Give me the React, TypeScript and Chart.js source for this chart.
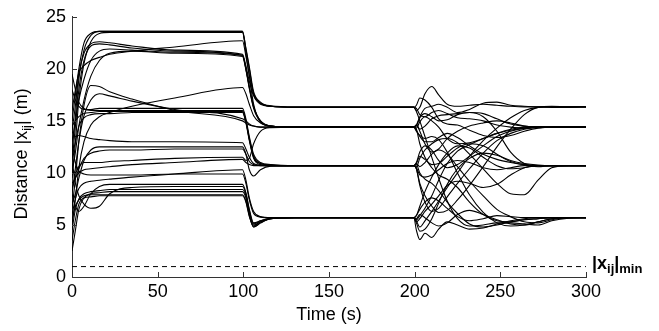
import { useEffect, useRef } from "react";
import { Chart, registerables } from "chart.js";

Chart.register(...registerables);

// Sample times (s)
const times = [0, 2, 4, 7, 11, 16, 22, 35, 60, 99.5, 101.5, 103.5, 106, 110, 116, 130, 199.5, 201, 203, 206, 210, 214, 219, 225, 232, 240, 248, 256, 264, 272, 280, 290, 300];

// Pairwise distances |x_ij| (m), one array per pair
const d01 = [15.0, 17.5, 20.0, 22.5, 23.4, 23.6, 23.6, 23.6, 23.6, 23.6, 22.0, 20.2, 17.8, 16.8, 16.45, 16.35, 16.35, 16.0, 16.3, 17.6, 18.3, 17.5, 16.6, 16.4, 16.5, 16.6, 16.5, 16.4, 16.35, 16.35, 16.35, 16.35, 16.35];
const d02 = [12.0, 15.5, 19.0, 21.8, 23.2, 23.6, 23.6, 23.6, 23.6, 23.6, 21.9, 20.0, 17.6, 16.7, 16.4, 16.3, 16.3, 15.9, 15.0, 13.5, 11.5, 9.5, 7.3, 5.6, 4.9, 5.0, 5.2, 5.2, 5.1, 5.0, 5.4, 5.65, 5.7];
const d03 = [9.5, 13.0, 17.0, 20.5, 22.6, 23.4, 23.5, 23.5, 23.5, 23.5, 21.5, 19.3, 16.6, 14.9, 14.5, 14.4, 14.4, 14.0, 13.6, 13.3, 13.5, 13.2, 12.0, 10.0, 7.9, 6.2, 5.2, 4.9, 5.0, 5.3, 5.6, 5.7, 5.7];
const d04 = [14.0, 16.5, 19.5, 21.5, 22.4, 22.6, 22.5, 22.2, 21.8, 21.4, 20.3, 18.8, 17.4, 16.6, 16.4, 16.3, 16.3, 16.2, 15.6, 15.4, 15.8, 16.0, 15.7, 15.3, 15.2, 15.0, 14.6, 14.4, 14.3, 14.35, 14.4, 14.4, 14.4];
const d05 = [11.0, 14.5, 18.0, 20.8, 22.2, 22.4, 22.3, 22.0, 21.7, 21.3, 20.0, 18.3, 16.4, 15.0, 14.5, 14.4, 14.4, 14.6, 14.2, 14.5, 15.2, 15.5, 15.6, 15.7, 15.8, 15.4, 14.0, 12.0, 10.9, 10.6, 10.7, 10.7, 10.7];
const d06 = [16.0, 18.0, 19.6, 20.3, 20.8, 21.1, 21.4, 21.7, 22.1, 22.7, 21.2, 19.4, 17.6, 16.7, 16.4, 16.3, 16.3, 16.5, 17.2, 17.0, 16.3, 15.2, 14.7, 14.6, 14.1, 13.6, 13.4, 13.6, 14.0, 14.3, 14.4, 14.4, 14.4];
const d07 = [13.0, 15.0, 17.0, 19.0, 20.8, 21.7, 21.9, 21.8, 21.6, 21.3, 20.0, 18.2, 16.3, 15.0, 14.5, 14.4, 14.4, 14.3, 14.9, 15.4, 15.0, 14.4, 13.3, 12.8, 12.9, 13.3, 13.8, 14.2, 14.4, 14.45, 14.4, 14.4, 14.4];
const d08 = [10.0, 12.0, 14.5, 17.0, 19.3, 20.8, 21.5, 21.7, 21.5, 21.2, 19.9, 18.1, 16.2, 14.9, 14.5, 14.4, 14.4, 14.6, 15.4, 16.2, 16.4, 16.6, 16.3, 15.8, 16.1, 16.7, 16.8, 16.5, 16.4, 16.35, 16.3, 16.3, 16.35];
const d09 = [6.5, 9.5, 13.0, 16.5, 18.4, 18.3, 17.8, 17.1, 16.0, 15.0, 14.8, 14.6, 14.5, 14.4, 14.4, 14.4, 14.4, 14.1, 13.5, 13.0, 13.0, 13.4, 13.8, 13.4, 12.6, 11.8, 11.3, 11.0, 10.8, 10.7, 10.7, 10.7, 10.7];
const d10 = [8.0, 10.5, 13.0, 15.5, 17.0, 17.6, 17.4, 16.9, 16.1, 15.2, 15.0, 14.7, 14.5, 14.4, 14.4, 14.4, 14.4, 14.6, 14.0, 12.8, 12.0, 12.3, 13.3, 14.0, 14.5, 14.8, 15.0, 14.8, 14.5, 14.4, 14.4, 14.4, 14.4];
const d11 = [5.0, 7.5, 10.5, 13.0, 14.6, 15.4, 15.8, 16.4, 17.2, 18.2, 17.6, 16.6, 15.5, 14.8, 14.5, 14.4, 14.4, 14.2, 12.8, 11.5, 10.5, 9.8, 9.4, 8.6, 7.2, 6.0, 5.4, 5.3, 5.5, 5.6, 5.7, 5.7, 5.7];
const d12 = [18.0, 17.0, 16.4, 16.1, 16.1, 16.2, 16.2, 16.2, 16.2, 16.2, 15.2, 13.5, 11.8, 11.0, 10.8, 10.7, 10.7, 10.4, 9.0, 7.8, 6.8, 6.2, 6.4, 7.4, 8.8, 10.6, 12.5, 14.2, 15.6, 16.3, 16.4, 16.35, 16.35];
const d13 = [19.5, 18.0, 16.8, 16.2, 16.0, 16.0, 16.0, 16.0, 16.0, 16.0, 15.0, 13.3, 11.6, 10.9, 10.75, 10.7, 10.7, 11.0, 12.0, 12.6, 12.2, 11.2, 10.5, 10.8, 11.6, 12.6, 13.5, 14.0, 14.3, 14.4, 14.4, 14.4, 14.4];
const d14 = [14.5, 15.0, 15.4, 15.7, 15.8, 15.9, 15.9, 15.9, 15.9, 15.9, 14.9, 13.2, 11.5, 10.9, 10.75, 10.7, 10.7, 10.6, 11.4, 12.2, 12.8, 13.2, 13.3, 12.9, 11.8, 10.4, 9.0, 8.0, 7.9, 9.3, 10.5, 10.7, 10.7];
const d15 = [11.5, 13.0, 14.5, 15.3, 15.6, 15.7, 15.7, 15.8, 15.8, 15.8, 14.8, 13.1, 11.4, 10.8, 10.7, 10.7, 10.7, 10.9, 10.6, 11.0, 11.8, 12.2, 11.8, 10.6, 9.2, 7.8, 6.5, 5.8, 5.3, 5.2, 5.5, 5.7, 5.7];
const d16 = [14.0, 13.5, 13.6, 13.5, 13.3, 13.2, 13.1, 13.0, 13.0, 12.9, 12.3, 11.5, 10.9, 10.75, 10.7, 10.7, 10.7, 10.5, 9.8, 9.6, 9.8, 10.3, 10.9, 11.2, 11.0, 10.5, 10.3, 10.5, 10.7, 10.7, 10.7, 10.7, 10.7];
const d17 = [7.0, 8.0, 9.5, 11.2, 12.2, 12.5, 12.5, 12.5, 12.5, 12.5, 11.8, 10.3, 9.7, 10.3, 10.65, 10.7, 10.7, 10.4, 8.8, 7.2, 6.3, 6.6, 7.7, 9.0, 10.4, 11.9, 13.1, 13.8, 14.2, 14.4, 14.4, 14.4, 14.4];
const d18 = [9.0, 9.5, 10.4, 11.4, 11.9, 12.1, 12.2, 12.2, 12.3, 12.3, 11.8, 11.1, 10.8, 10.7, 10.7, 10.7, 10.7, 10.8, 10.0, 9.4, 9.0, 8.3, 7.2, 6.1, 5.1, 4.8, 5.0, 5.3, 5.5, 5.6, 5.7, 5.7, 5.7];
const d19 = [10.5, 10.0, 10.6, 11.0, 11.0, 11.0, 11.1, 11.2, 11.4, 11.5, 11.2, 11.4, 12.8, 14.0, 14.35, 14.4, 14.4, 14.5, 15.3, 15.7, 15.4, 15.0, 15.1, 15.6, 15.8, 15.7, 15.2, 14.7, 14.5, 14.4, 14.4, 14.4, 14.4];
const d20 = [8.5, 9.5, 10.0, 10.3, 10.4, 10.5, 10.6, 10.8, 11.0, 11.3, 11.0, 10.8, 10.7, 10.7, 10.7, 10.7, 10.7, 10.9, 11.6, 11.3, 10.8, 10.9, 11.6, 12.4, 12.8, 12.6, 11.8, 11.1, 10.8, 10.7, 10.7, 10.7, 10.7];
const d21 = [6.0, 7.5, 8.5, 9.0, 9.2, 9.3, 9.4, 9.6, 9.9, 10.3, 9.3, 7.6, 6.3, 5.8, 5.7, 5.7, 5.7, 5.4, 4.8, 5.4, 6.3, 7.3, 8.6, 10.0, 11.6, 13.1, 14.3, 15.3, 16.0, 16.3, 16.35, 16.35, 16.35];
const d22 = [12.5, 11.0, 10.2, 9.9, 9.8, 9.8, 9.8, 9.8, 9.9, 9.9, 9.0, 7.4, 6.1, 5.75, 5.7, 5.7, 5.7, 5.5, 5.9, 6.6, 7.8, 9.3, 10.9, 12.1, 12.7, 13.3, 13.8, 14.1, 14.3, 14.4, 14.4, 14.4, 14.4];
const d23 = [8.0, 6.8, 6.3, 6.8, 8.0, 8.7, 8.9, 8.9, 8.9, 8.9, 8.1, 6.5, 5.2, 5.4, 5.65, 5.7, 5.7, 5.9, 6.5, 7.2, 7.6, 7.3, 6.6, 5.8, 5.4, 5.6, 5.9, 5.8, 5.7, 5.7, 5.7, 5.7, 5.7];
const d24 = [11.0, 9.0, 7.8, 7.0, 6.6, 6.8, 8.0, 8.6, 8.7, 8.7, 8.0, 6.4, 5.1, 5.4, 5.65, 5.7, 5.7, 5.3, 5.6, 6.3, 7.0, 7.8, 8.8, 9.2, 9.0, 8.6, 8.9, 9.8, 10.5, 10.7, 10.7, 10.7, 10.7];
const d25 = [4.5, 6.5, 7.5, 8.0, 8.2, 8.3, 8.4, 8.4, 8.4, 8.4, 7.8, 6.2, 5.0, 5.3, 5.6, 5.7, 5.7, 5.2, 4.4, 4.6, 5.6, 7.1, 8.9, 10.4, 11.4, 11.9, 11.7, 11.2, 10.9, 10.75, 10.7, 10.7, 10.7];
const d26 = [2.5, 4.5, 6.5, 7.6, 8.0, 8.1, 8.2, 8.2, 8.2, 8.2, 7.6, 6.0, 4.8, 5.2, 5.6, 5.7, 5.7, 4.5, 3.6, 4.2, 3.8, 4.6, 5.3, 5.0, 4.6, 4.7, 5.1, 5.4, 5.6, 5.7, 5.7, 5.7, 5.7];
const d27 = [5.5, 6.8, 7.4, 7.8, 7.9, 7.9, 7.9, 7.9, 7.9, 7.9, 7.3, 5.9, 4.8, 5.2, 5.6, 5.7, 5.7, 5.6, 6.0, 5.7, 5.2, 4.9, 5.2, 6.0, 6.4, 6.0, 5.5, 5.1, 5.0, 5.3, 5.6, 5.7, 5.7];
const d28 = [3.5, 5.5, 7.0, 7.6, 7.7, 7.8, 7.8, 7.8, 7.8, 7.8, 7.2, 5.8, 4.9, 5.3, 5.6, 5.7, 5.7, 5.9, 6.8, 8.2, 9.6, 10.8, 11.9, 12.6, 12.4, 11.5, 10.7, 10.4, 10.5, 10.7, 10.7, 10.7, 10.7];

const pairSeries = [d01, d02, d03, d04, d05, d06, d07, d08, d09, d10, d11, d12, d13, d14, d15, d16, d17, d18, d19, d20, d21, d22, d23, d24, d25, d26, d27, d28];

const minDistance = 1;
const xRange = [0, 300];
const yRange = [0, 25];
const xTicks = [0, 50, 100, 150, 200, 250, 300];
const yTicks = [0, 5, 10, 15, 20, 25];
const xTitle = "Time (s)";

const FONT = '"Liberation Sans", Arial, Helvetica, sans-serif';
const AXIS_COLOR = "#333";

type Part = { text: string; size: number; dy: number; bold?: boolean };

function drawParts(ctx: CanvasRenderingContext2D, parts: Part[], x: number, y: number, align: "left" | "center") {
  let total = 0;
  const widths = parts.map((p) => {
    ctx.font = `${p.bold ? "bold " : ""}${p.size}px ${FONT}`;
    const w = ctx.measureText(p.text).width;
    total += w;
    return w;
  });
  let cx = align === "center" ? x - total / 2 : x;
  ctx.textAlign = "left";
  ctx.textBaseline = "alphabetic";
  parts.forEach((p, i) => {
    ctx.font = `${p.bold ? "bold " : ""}${p.size}px ${FONT}`;
    ctx.fillText(p.text, cx, y + p.dy);
    cx += widths[i];
  });
}

const decorPlugin = {
  id: "decor",
  afterDraw(chart: any) {
    const ctx: CanvasRenderingContext2D = chart.ctx;
    const xs = chart.scales.x;
    const ys = chart.scales.y;
    const { left, right, bottom } = chart.chartArea;
    ctx.save();
    // inward tick marks
    ctx.strokeStyle = AXIS_COLOR;
    ctx.lineWidth = 1;
    ctx.beginPath();
    xTicks.forEach((v) => {
      const px = Math.round(xs.getPixelForValue(v)) + 0.5;
      ctx.moveTo(px, bottom);
      ctx.lineTo(px, bottom - 5);
    });
    yTicks.forEach((v) => {
      const py = Math.round(ys.getPixelForValue(v)) + 0.5;
      ctx.moveTo(left, py);
      ctx.lineTo(left + 5, py);
    });
    ctx.stroke();

    ctx.fillStyle = "#000";
    // x title
    ctx.font = `18px ${FONT}`;
    ctx.textAlign = "center";
    ctx.textBaseline = "alphabetic";
    ctx.fillText(xTitle, (left + right) / 2, bottom + 43);

    // y title with subscript
    ctx.save();
    ctx.translate(27, (ys.getPixelForValue(yRange[0]) + ys.getPixelForValue(yRange[1])) / 2 + 7);
    ctx.rotate(-Math.PI / 2);
    drawParts(
      ctx,
      [
        { text: "Distance |x", size: 18, dy: 0 },
        { text: "ij", size: 13, dy: 4 },
        { text: "| (m)", size: 18, dy: 0 },
      ],
      0,
      0,
      "center"
    );
    ctx.restore();

    // minimum distance label
    drawParts(
      ctx,
      [
        { text: "|x", size: 18, dy: 0, bold: true },
        { text: "ij", size: 13, dy: 4, bold: true },
        { text: "|", size: 18, dy: 0, bold: true },
        { text: "min", size: 13, dy: 4, bold: true },
      ],
      right + 6,
      ys.getPixelForValue(minDistance) + 2,
      "left"
    );
    ctx.restore();
  },
};

export default function App() {
  const canvasRef = useRef<HTMLCanvasElement | null>(null);

  useEffect(() => {
    const canvas = canvasRef.current;
    if (!canvas) return;
    const datasets: any[] = pairSeries.map((arr, k) => ({
      label: `pair ${k + 1}`,
      data: times.map((t, i) => ({ x: t, y: arr[i] })),
      borderColor: "#000",
      borderWidth: 1.1,
      pointRadius: 0,
      fill: false,
      cubicInterpolationMode: "monotone",
    }));
    datasets.push({
      label: "min",
      data: [
        { x: xRange[0], y: minDistance },
        { x: xRange[1], y: minDistance },
      ],
      borderColor: "#000",
      borderWidth: 1,
      borderDash: [5, 4],
      pointRadius: 0,
      fill: false,
    });

    const chart = new Chart(canvas, {
      type: "line",
      data: { datasets },
      options: {
        responsive: false,
        animation: false,
        events: [],
        layout: { padding: { top: 13, right: 73, left: 0, bottom: 0 } },
        plugins: { legend: { display: false }, tooltip: { enabled: false }, title: { display: false } },
        scales: {
          x: {
            type: "linear",
            min: xRange[0],
            max: xRange[1],
            afterFit: (s: any) => {
              s.height = 54;
            },
            afterBuildTicks: (s: any) => {
              s.ticks = xTicks.map((v) => ({ value: v }));
            },
            grid: { display: false, drawTicks: false },
            border: { display: true, color: AXIS_COLOR, width: 1 },
            ticks: { color: "#000", font: { family: FONT, size: 18 }, padding: 4, maxRotation: 0, autoSkip: false },
          },
          y: {
            type: "linear",
            min: yRange[0],
            max: yRange[1],
            afterFit: (s: any) => {
              s.width = 72;
            },
            afterBuildTicks: (s: any) => {
              s.ticks = yTicks.map((v) => ({ value: v }));
            },
            grid: { display: false, drawTicks: false },
            border: { display: true, color: AXIS_COLOR, width: 1 },
            ticks: { color: "#000", font: { family: FONT, size: 18 }, padding: 6, autoSkip: false },
          },
        },
      },
      plugins: [decorPlugin],
    });
    return () => chart.destroy();
  }, []);

  return (
    <div style={{ position: "fixed", left: 0, top: 0, width: 659, height: 331, background: "#fff" }}>
      <canvas ref={canvasRef} width={659} height={331} />
    </div>
  );
}
